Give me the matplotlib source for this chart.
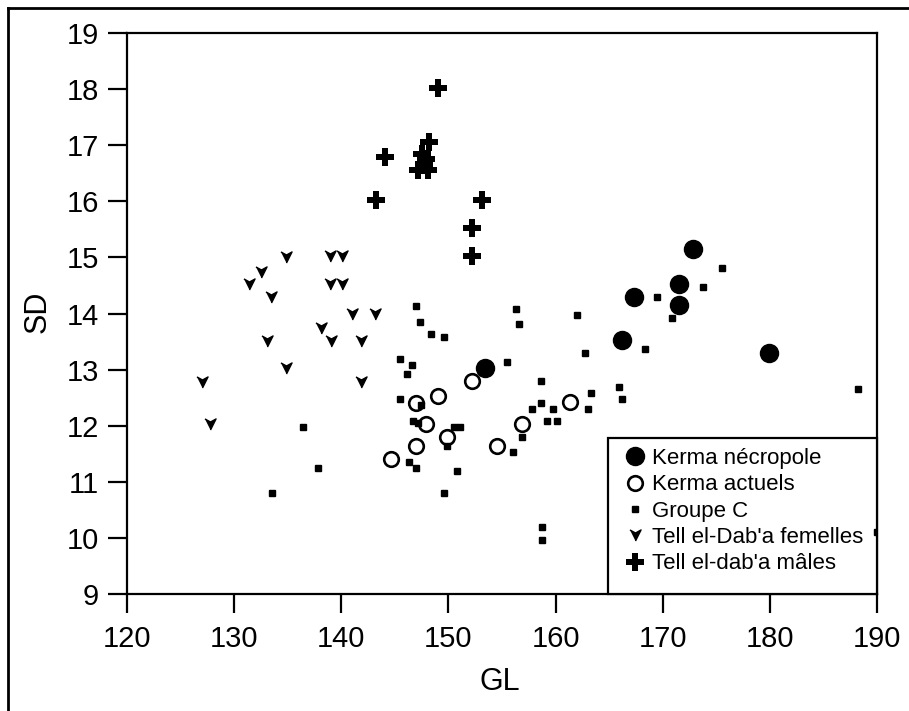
import matplotlib
matplotlib.use("Agg")
import matplotlib.pyplot as plt
from matplotlib.patches import Rectangle
from matplotlib.lines import Line2D

plt.rcParams['font.family'] = ['Liberation Sans', 'DejaVu Sans']

# Kerma nécropole (filled circles)
kn_gl = [172.8, 167.3, 171.5, 171.5, 166.2, 179.9, 153.4]
kn_sd = [15.15, 14.29, 14.53, 14.15, 13.53, 13.30, 13.03]

# Kerma actuels (open circles)
ka_gl = [144.6, 147.0, 147.0, 147.9, 149.0, 149.9, 152.2, 154.5, 156.9, 161.3]
ka_sd = [11.41, 12.40, 11.64, 12.03, 12.53, 11.80, 12.80, 11.64, 12.03, 12.42]

# Groupe C (small squares)
gc_gl = [147.0, 147.3, 148.4, 149.6, 156.3, 156.6, 162.0, 145.5, 146.6, 146.1,
         155.5, 145.5, 158.6, 158.6, 157.8, 159.8, 159.2, 160.1, 147.4, 146.7,
         147.2, 150.5, 151.1, 149.9, 156.9, 156.0, 146.3, 147.0, 150.8, 149.6,
         175.5, 173.8, 169.5, 170.9, 168.3, 162.7, 163.3, 165.9, 166.2, 163.0,
         136.4, 137.8, 133.5, 158.7, 158.7, 188.2, 190.0]
gc_sd = [14.13, 13.85, 13.63, 13.58, 14.08, 13.81, 13.97, 13.19, 13.08, 12.92,
         13.14, 12.48, 12.80, 12.40, 12.30, 12.30, 12.08, 12.08, 12.37, 12.08,
         12.05, 11.97, 11.97, 11.64, 11.80, 11.53, 11.35, 11.25, 11.19, 10.80,
         14.81, 14.47, 14.29, 13.92, 13.37, 13.30, 12.58, 12.69, 12.48, 12.30,
         11.97, 11.25, 10.80, 10.20, 9.96, 12.65, 10.11]

# Tell el-Dab'a femelles (notched down triangles)
tf_gl = [134.8, 138.9, 140.1, 132.5, 131.4, 138.9, 140.1, 133.4, 141.0, 143.1,
         138.1, 133.1, 139.0, 141.8, 134.8, 127.0, 141.8, 127.7]
tf_sd = [15.00, 15.02, 15.02, 14.74, 14.53, 14.53, 14.53, 14.29, 14.00, 14.00,
         13.74, 13.51, 13.51, 13.51, 13.03, 12.78, 12.78, 12.03]

# Tell el-dab'a mâles (crosses)
tm_gl = [149.0, 148.2, 144.1, 147.5, 147.2, 148.1, 147.7, 147.9, 143.2, 153.1, 152.2, 152.2]
tm_sd = [18.02, 17.06, 16.79, 16.85, 16.55, 16.55, 16.65, 16.75, 16.02, 16.02, 15.52, 15.03]

x_ticks = [120, 130, 140, 150, 160, 170, 180, 190]
y_ticks = [9, 10, 11, 12, 13, 14, 15, 16, 17, 18, 19]

tri_marker = [(-1, 1), (0, 0.45), (1, 1), (0, -1)]

fig = plt.figure(figsize=(9.09, 7.11), dpi=100)
ax = fig.add_axes([127 / 909, 1 - 594 / 711, 750 / 909, 561 / 711])

ax.plot(gc_gl, gc_sd, ls='none', marker='s', ms=4.3, color='black', label='Groupe C', zorder=6)
ax.plot(tf_gl, tf_sd, ls='none', marker=tri_marker, ms=8, color='black',
        label="Tell el-Dab'a femelles")
ax.plot(ka_gl, ka_sd, ls='none', marker='o', ms=10.5, mfc='none', mec='black', mew=1.9,
        label='Kerma actuels')
ax.plot(kn_gl, kn_sd, ls='none', marker='o', ms=13, color='black', label='Kerma nécropole')
ax.plot(tm_gl, tm_sd, ls='none', marker='P', ms=13, color='black', mew=0,
        label="Tell el-dab'a mâles")

ax.set_xlim(120, 190)
ax.set_ylim(9, 19)
ax.set_xticks(x_ticks)
ax.set_yticks(y_ticks)
ax.tick_params(direction='out', length=14, width=1.6, labelsize=21, top=False, right=False)
ax.tick_params(axis='x', pad=8)
ax.tick_params(axis='y', pad=6)
for s in ax.spines.values():
    s.set_linewidth(1.6)

ax.set_xlabel('GL', fontsize=22)
ax.xaxis.set_label_coords(0.497, -0.13)
ax.set_ylabel('SD', fontsize=22)
ax.yaxis.set_label_coords(-0.099, 0.503)

# legend box
ax.add_patch(Rectangle((0.641, 0), 0.359, 0.278, transform=ax.transAxes, facecolor='white',
                       edgecolor='black', linewidth=1.6, zorder=4, clip_on=False))
handles, labels = ax.get_legend_handles_labels()
order = [3, 2, 0, 1, 4]
leg = ax.legend([handles[i] for i in order], [labels[i] for i in order],
                loc='upper left', bbox_to_anchor=(0.641, 0.278), borderaxespad=0,
                frameon=False, fontsize=16, borderpad=0.45, handlelength=1.55,
                handletextpad=0.0, labelspacing=0.24)
leg.set_zorder(5)

# outer frame (top and left edges)
fig.add_artist(Line2D([8 / 909, 8 / 909], [0, 1 - 8 / 711], color='black', lw=2))
fig.add_artist(Line2D([8 / 909, 1], [1 - 8 / 711, 1 - 8 / 711], color='black', lw=2))

fig.savefig('out.png', dpi=100)
